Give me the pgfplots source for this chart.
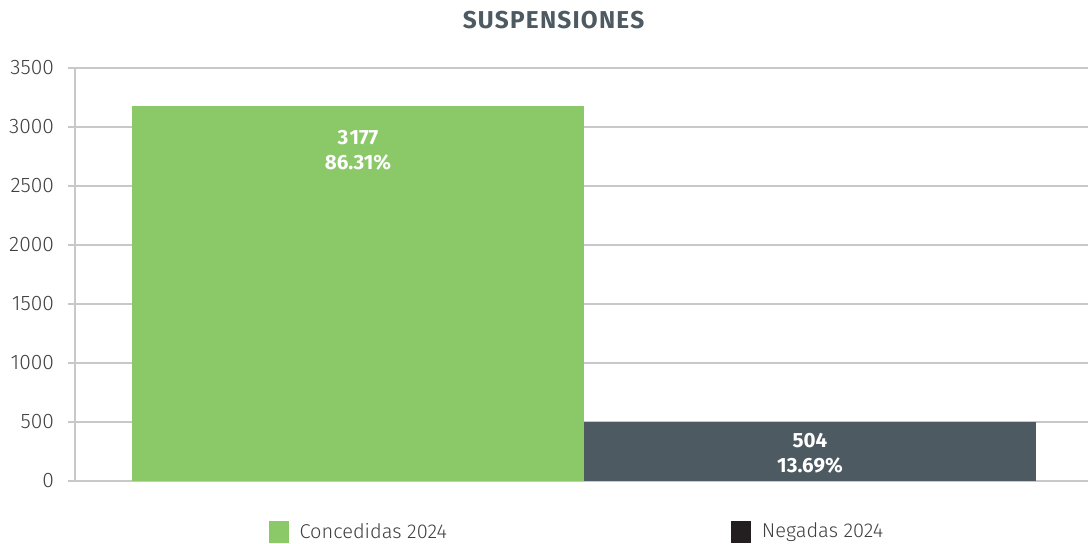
\documentclass[border=0pt]{standalone}
\usepackage{fontspec}
\setmainfont{Fira Sans Light}[BoldFont=Fira Sans SemiBold]
\newfontfamily\titlefont{Fira Sans Bold}[LetterSpace=5]
\newfontfamily\labfont{Fira Sans Bold}
\usepackage{pgfplots}
\pgfplotsset{compat=1.18}
\definecolor{conc}{HTML}{8AC868}
\definecolor{neg}{HTML}{4D5A61}
\definecolor{negleg}{HTML}{231F20}
\definecolor{gridc}{HTML}{C8C8C8}
\definecolor{txt}{HTML}{404040}
\begin{document}
\begin{tikzpicture}
\path[use as bounding box] (0,0) rectangle (544pt,272pt);
\node[font=\titlefont\fontsize{12.2}{14}\selectfont, text=neg] at (276.75pt,261.75pt) {SUSPENSIONES};
\begin{axis}[
  at={(37.5pt,31.5pt)}, anchor=south west,
  scale only axis, width=506.5pt, height=206.5pt,
  xmin=-0.626, xmax=1.615, ymin=0, ymax=3500,
  ytick={0,500,...,3500}, xtick=\empty,
  axis x line=none,
  axis y line*=left,
  y axis line style={draw=gridc, line width=0.8pt, -},
  ymajorgrids, grid style={draw=gridc, line width=0.8pt},
  tick align=outside, major tick length=3.5pt,
  y tick style={draw=gridc, line width=0.8pt},
  /pgf/number format/assume math mode=true,
  /pgf/number format/1000 sep={},
  yticklabel style={font=\fontsize{10.5}{12}\selectfont, text=txt, xshift=-3.5pt},
  bar width=1, ybar, bar shift=0pt,
  point meta=explicit symbolic,
  nodes near coords,
  nodes near coords style={anchor=north, align=center, text=white, font=\labfont\fontsize{10.3}{12.5}\selectfont},
  legend columns=2,
  legend style={at={(0.4965,-0.1235)}, anchor=center, draw=none, fill=none,
    font=\fontsize{10}{12}\selectfont, text=txt,
    /tikz/every odd column/.append style={column sep=3.5pt},
    /tikz/every even column/.append style={column sep=140pt}},
  legend image code/.code={\fill[#1] (0pt,-5.5pt) rectangle (10pt,5.5pt);},
]
\addplot[fill=conc, draw=none, forget plot, nodes near coords style={yshift=-8.5pt}] coordinates {(0,3177) [{3\kern0.6pt177\\86.31\%}]};
\addplot[fill=neg, draw=none, forget plot, nodes near coords style={yshift=-2.5pt}] coordinates {(1,504) [{504\\13.69\%}]};
\addlegendimage{fill=conc, draw=none}
\addlegendentry{Concedidas 2024}
\addlegendimage{fill=negleg, draw=none}
\addlegendentry{Negadas 2024}
\end{axis}
\end{tikzpicture}
\end{document}
